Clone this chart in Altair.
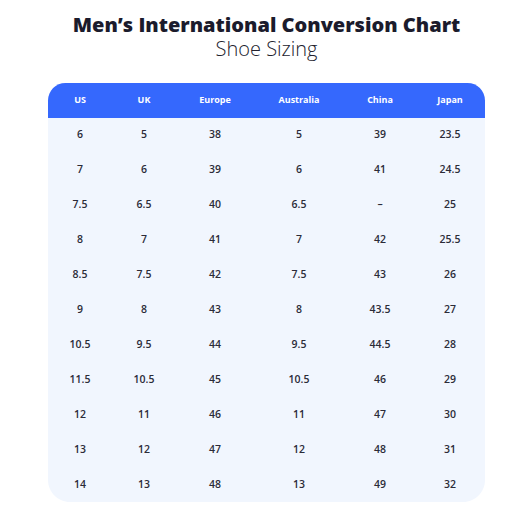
import altair as alt
import pandas as pd

columns = ["US", "UK", "Europe", "Australia", "China", "Japan"]
us = ["6", "7", "7.5", "8", "8.5", "9", "10.5", "11.5", "12", "13", "14"]
uk = ["5", "6", "6.5", "7", "7.5", "8", "9.5", "10.5", "11", "12", "13"]
europe = ["38", "39", "40", "41", "42", "43", "44", "45", "46", "47", "48"]
australia = ["5", "6", "6.5", "7", "7.5", "8", "9.5", "10.5", "11", "12", "13"]
china = ["39", "41", "–", "42", "43", "43.5", "44.5", "46", "47", "48", "49"]
japan = ["23.5", "24.5", "25", "25.5", "26", "27", "28", "29", "30", "31", "32"]

W, H = 437, 419
# table column centres (layout of the HTML-like table)
col_centers = [32, 96, 167, 251, 332, 402]
col_pos = dict(zip(columns, col_centers))

series = [us, uk, europe, australia, china, japan]
row_keys = ["hdr"] + [f"r{i}" for i in range(len(us))]

body = pd.DataFrame(
    [{"col": c, "pos": col_pos[c], "row": f"r{i}", "val": v}
     for c, vals in zip(columns, series) for i, v in enumerate(vals)]
)
head = pd.DataFrame([{"col": c, "pos": col_pos[c], "row": "hdr", "val": c} for c in columns])
hdr_band = pd.DataFrame([{"row": "hdr"}])
card = pd.DataFrame([{"row": "card"}])

xs = alt.Scale(domain=[0, W], range=[0, W])
ys = alt.Scale(domain=row_keys, paddingInner=0, paddingOuter=0)

card_bg = alt.Chart(card).mark_rect(color="#f1f6fe", cornerRadius=22).encode(
    x=alt.value(0), x2=alt.value(W), y=alt.value(0), y2=alt.value(H)
)

band = alt.Chart(hdr_band).mark_rect(
    color="#3568fd", cornerRadiusTopLeft=22, cornerRadiusTopRight=22
).encode(
    y=alt.Y("row:N", scale=ys, axis=None),
    x=alt.value(0),
    x2=alt.value(W),
)

head_text = alt.Chart(head).mark_text(
    font="Open Sans", fontSize=9, fontWeight="bold", color="white"
).encode(
    x=alt.X("pos:Q", scale=xs, axis=None),
    y=alt.Y("row:N", scale=ys, axis=None),
    text="val:N",
)

body_text = alt.Chart(body).mark_text(
    font="Open Sans", fontSize=10.5, fontWeight=600, color="#2b2b38"
).encode(
    x=alt.X("pos:Q", scale=xs, axis=None),
    y=alt.Y("row:N", scale=ys, axis=None),
    text="val:N",
)

chart = alt.layer(card_bg, band, head_text, body_text).properties(
    width=W,
    height=H,
    autosize=alt.AutoSizeParams(type="none"),
    padding={"left": 40, "top": 75, "right": 37, "bottom": 9},
    view=alt.ViewBackground(stroke="transparent", strokeOpacity=0, strokeWidth=0),
    title=alt.TitleParams(
        text="Men’s International Conversion Chart",
        subtitle="Shoe Sizing",
        font="Open Sans",
        fontSize=20,
        fontWeight=800,
        color="#1b1b2c",
        subtitleFont="Open Sans",
        subtitleFontSize=20,
        subtitleFontWeight=300,
        subtitleColor="#22222e",
        subtitlePadding=4,
        anchor="middle",
        offset=23,
    ),
).configure_view(
    stroke="transparent", strokeOpacity=0, strokeWidth=0
).configure(background="white")

chart.save("out.html", embed_options={"renderer": "svg", "actions": False})
